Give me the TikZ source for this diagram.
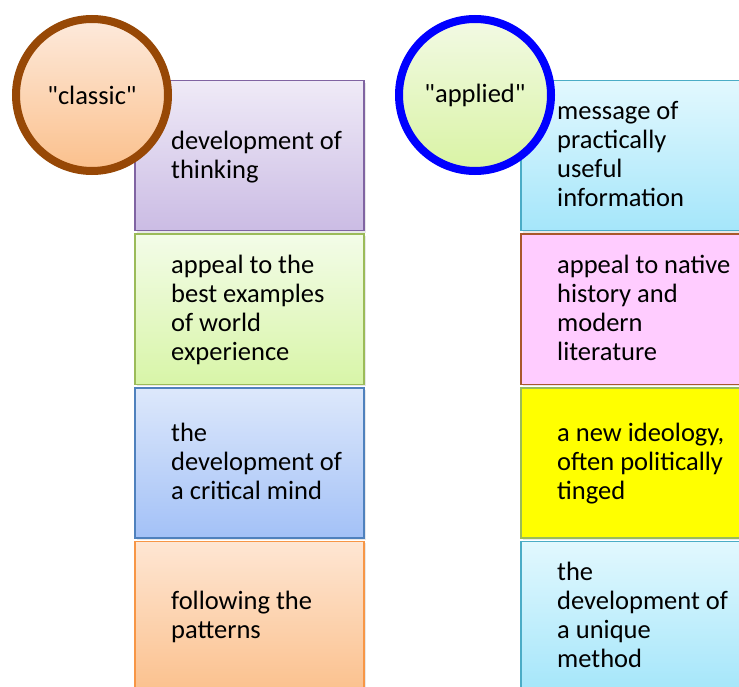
\documentclass[tikz,border=0pt]{standalone}
\usepackage{fontspec}
\setmainfont{Carlito}
\usetikzlibrary{positioning,shadows}
\definecolor{ringbrown}{HTML}{974806}
\definecolor{ringblue}{HTML}{0000FF}
\definecolor{purpleline}{HTML}{8064A2}
\definecolor{purpletop}{HTML}{EFEAF7}
\definecolor{purplebot}{HTML}{CBBCE4}
\definecolor{greenline}{HTML}{9BBB59}
\definecolor{greentop}{HTML}{F3FCE8}
\definecolor{greenbot}{HTML}{D8F5A8}
\definecolor{blueline}{HTML}{4F81BD}
\definecolor{bluetop}{HTML}{DDE8FB}
\definecolor{bluebot}{HTML}{A3C1F7}
\definecolor{orangeline}{HTML}{F79646}
\definecolor{orangetop}{HTML}{FEE6D3}
\definecolor{orangebot}{HTML}{FBC18E}
\definecolor{cyanline}{HTML}{4BACC6}
\definecolor{cyantop}{HTML}{E2F8FE}
\definecolor{cyanbot}{HTML}{A5E6FA}
\definecolor{pinkline}{HTML}{A9572B}
\definecolor{pinkfill}{HTML}{FFCCFF}
\definecolor{yellowfill}{HTML}{FFFF00}
\definecolor{peachtop}{HTML}{FDEADC}
\definecolor{peachbot}{HTML}{FBC08C}
\definecolor{limetop}{HTML}{F2FAE4}
\definecolor{limebot}{HTML}{D9F3A4}
\begin{document}
\begin{tikzpicture}[x=1pt,y=1pt,node distance=2pt,
      every node/.style={font=\fontsize{26.5}{29}\selectfont},
      cell/.style={draw,line width=1.5pt,minimum width=229pt,minimum height=150pt,inner sep=0pt,
        drop shadow={shadow xshift=2pt,shadow yshift=-2pt,opacity=.18}},
      word/.style={align=left,inner sep=0pt,yshift=-3pt,
        execute at begin node=\strut,execute at end node=\strut},
      ring/.style={circle,line width=8pt,minimum size=152pt,inner sep=0pt}]
      \useasboundingbox (0,0) rectangle (739,-687);
      % "classic" column
      \node[cell,anchor=north west,draw=purpleline,top color=purpletop,bottom color=purplebot] (c1) at (134,-80) {};
      \node[cell,draw=greenline,top color=greentop,bottom color=greenbot] (c2) [below=of c1] {};
      \node[cell,draw=blueline,top color=bluetop,bottom color=bluebot] (c3) [below=of c2] {};
      \node[cell,draw=orangeline,top color=orangetop,bottom color=orangebot] (c4) [below=of c3] {};
      \node[word] (c1t) [right=37pt of c1.west] {development of\\thinking};
      \node[word] (c2t) [right=37pt of c2.west] {appeal to the\\best examples\\of world\\experience};
      \node[word] (c3t) [right=37pt of c3.west] {the\\development of\\a critical mind};
      \node[word] (c4t) [right=37pt of c4.west] {following the\\patterns};
      % "applied" column
      \node[cell,anchor=north west,draw=cyanline,top color=cyantop,bottom color=cyanbot] (a1) at (520,-80) {};
      \node[cell,draw=pinkline,fill=pinkfill] (a2) [below=of a1] {};
      \node[cell,draw=greenline,fill=yellowfill] (a3) [below=of a2] {};
      \node[cell,draw=cyanline,top color=cyantop,bottom color=cyanbot] (a4) [below=of a3] {};
      \node[word] (a1t) [right=37pt of a1.west] {message of\\practically\\useful\\information};
      \node[word] (a2t) [right=37pt of a2.west] {appeal to native\\history and\\modern\\literature};
      \node[word] (a3t) [right=37pt of a3.west] {a new ideology,\\often politically\\tinged};
      \node[word] (a4t) [right=37pt of a4.west] {the\\development of\\a unique\\method};
      \node[ring,draw=ringbrown,top color=peachtop,bottom color=peachbot] (classic) at (92,-95) {\textquotedbl classic\textquotedbl};
      \node[ring,draw=ringblue,top color=limetop,bottom color=limebot] (applied) at (475,-95) {\textquotedbl applied\textquotedbl};
    \end{tikzpicture}
\end{document}
